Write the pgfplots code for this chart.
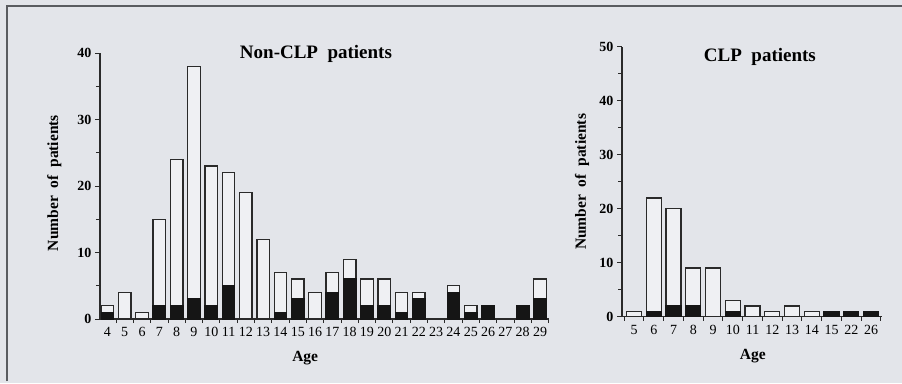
\documentclass[border=0pt]{standalone}
\usepackage{fontspec}
\setmainfont{Liberation Serif}
\usepackage{pgfplots}
\pgfplotsset{compat=1.18}
\definecolor{bg}{HTML}{E3E5EA}
\definecolor{barw}{HTML}{EFF0F3}
\definecolor{barb}{HTML}{151515}
\definecolor{edge}{HTML}{2A2A2A}
\definecolor{frame}{HTML}{5A5C60}
\pgfplotsset{
  mystyle/.style={
    scale only axis, anchor=south west,
    axis x line*=bottom, axis y line*=left,
    axis line style={-, line width=1.2pt, color=edge},
    ymin=0,
    tick align=outside,
    major tick length=5pt, minor tick length=4pt,
    every tick/.style={line width=1pt, color=edge},
    major x tick style={draw=none},
    yticklabel style={font=\fontsize{14}{14}\selectfont\bfseries, text=black},
    xticklabel style={font=\fontsize{14}{14}\selectfont, text=black, yshift=0pt},
    /pgf/number format/assume math mode=true,
    ybar, bar shift=0pt,
    clip=false,
  },
  whitebar/.style={fill=barw, draw=edge, line width=1.3pt},
  blackbar/.style={fill=barb, draw=barb, line width=1.3pt},
}
\begin{document}
\begin{tikzpicture}[x=1pt,y=1pt]
\useasboundingbox (0pt,0pt) rectangle (902pt,383pt);
\fill[bg] (0pt,0pt) rectangle (902pt,383pt);
\draw[frame, line width=1.5pt] (7pt,2pt) -- (7pt,377pt) -- (902pt,377pt);

% ---------------- Non-CLP ----------------
\begin{axis}[mystyle, at={(100pt,64pt)}, width=449pt, height=266pt,
  xmin=-0.43, xmax=25.52, ymax=40,
  ytick={0,10,20,30,40}, minor ytick={5,15,25,35},
  xtick={0,...,25},
  xticklabels={4,5,6,7,8,9,10,11,12,13,14,15,16,17,18,19,20,21,22,23,24,25,26,27,28,29},
  minor xtick={-0.5,0.5,...,25.5},
  bar width=0.72,
  title={\fontsize{19}{19}\selectfont\bfseries Non-CLP\ \ patients},
  title style={at={(axis description cs:0.481,0.974)}, anchor=center},
  ylabel={\fontsize{15.5}{15.5}\selectfont\bfseries Number\ \ of\ \ patients},
  ylabel style={at={(axis description cs:-0.102,0.511)}, anchor=center},
  xlabel={\fontsize{15.5}{15.5}\selectfont\bfseries Age},
  xlabel style={at={(axis description cs:0.457,-0.147)}, anchor=center},
]
\addplot[whitebar] coordinates {(0,2) (1,4) (2,1) (3,15) (4,24) (5,38) (6,23) (7,22) (8,19) (9,12) (10,7) (11,6) (12,4) (13,7) (14,9) (15,6) (16,6) (17,4) (18,4) (20,5) (21,2) (22,2) (24,2) (25,6)};
\addplot[blackbar] coordinates {(0,1) (3,2) (4,2) (5,3) (6,2) (7,5) (10,1) (11,3) (13,4) (14,6) (15,2) (16,2) (17,1) (18,3) (20,4) (21,1) (22,2) (24,2) (25,3)};
\end{axis}

% ---------------- CLP ----------------
\begin{axis}[mystyle, at={(622pt,66.3pt)}, width=259.7pt, height=270pt,
  xmin=-0.61, xmax=12.54, ymax=50,
  ytick={0,10,20,30,40,50}, minor ytick={5,15,25,35,45},
  xtick={0,...,12},
  xticklabels={5,6,7,8,9,10,11,12,13,14,15,22,26},
  minor xtick={-0.5,0.5,...,12.5},
  bar width=0.76,
  title={\fontsize{19}{19}\selectfont\bfseries CLP\ \ patients},
  title style={at={(axis description cs:0.531,0.94)}, anchor=center},
  ylabel={\fontsize{15.5}{15.5}\selectfont\bfseries Number\ \ of\ \ patients},
  ylabel style={at={(axis description cs:-0.154,0.499)}, anchor=center},
  xlabel={\fontsize{15.5}{15.5}\selectfont\bfseries Age},
  xlabel style={at={(axis description cs:0.504,-0.146)}, anchor=center},
]
\addplot[whitebar] coordinates {(0,1) (1,22) (2,20) (3,9) (4,9) (5,3) (6,2) (7,1) (8,2) (9,1) (10,1) (11,1) (12,1)};
\addplot[blackbar] coordinates {(1,1) (2,2) (3,2) (5,1) (10,1) (11,1) (12,1)};
\end{axis}
\end{tikzpicture}
\end{document}
